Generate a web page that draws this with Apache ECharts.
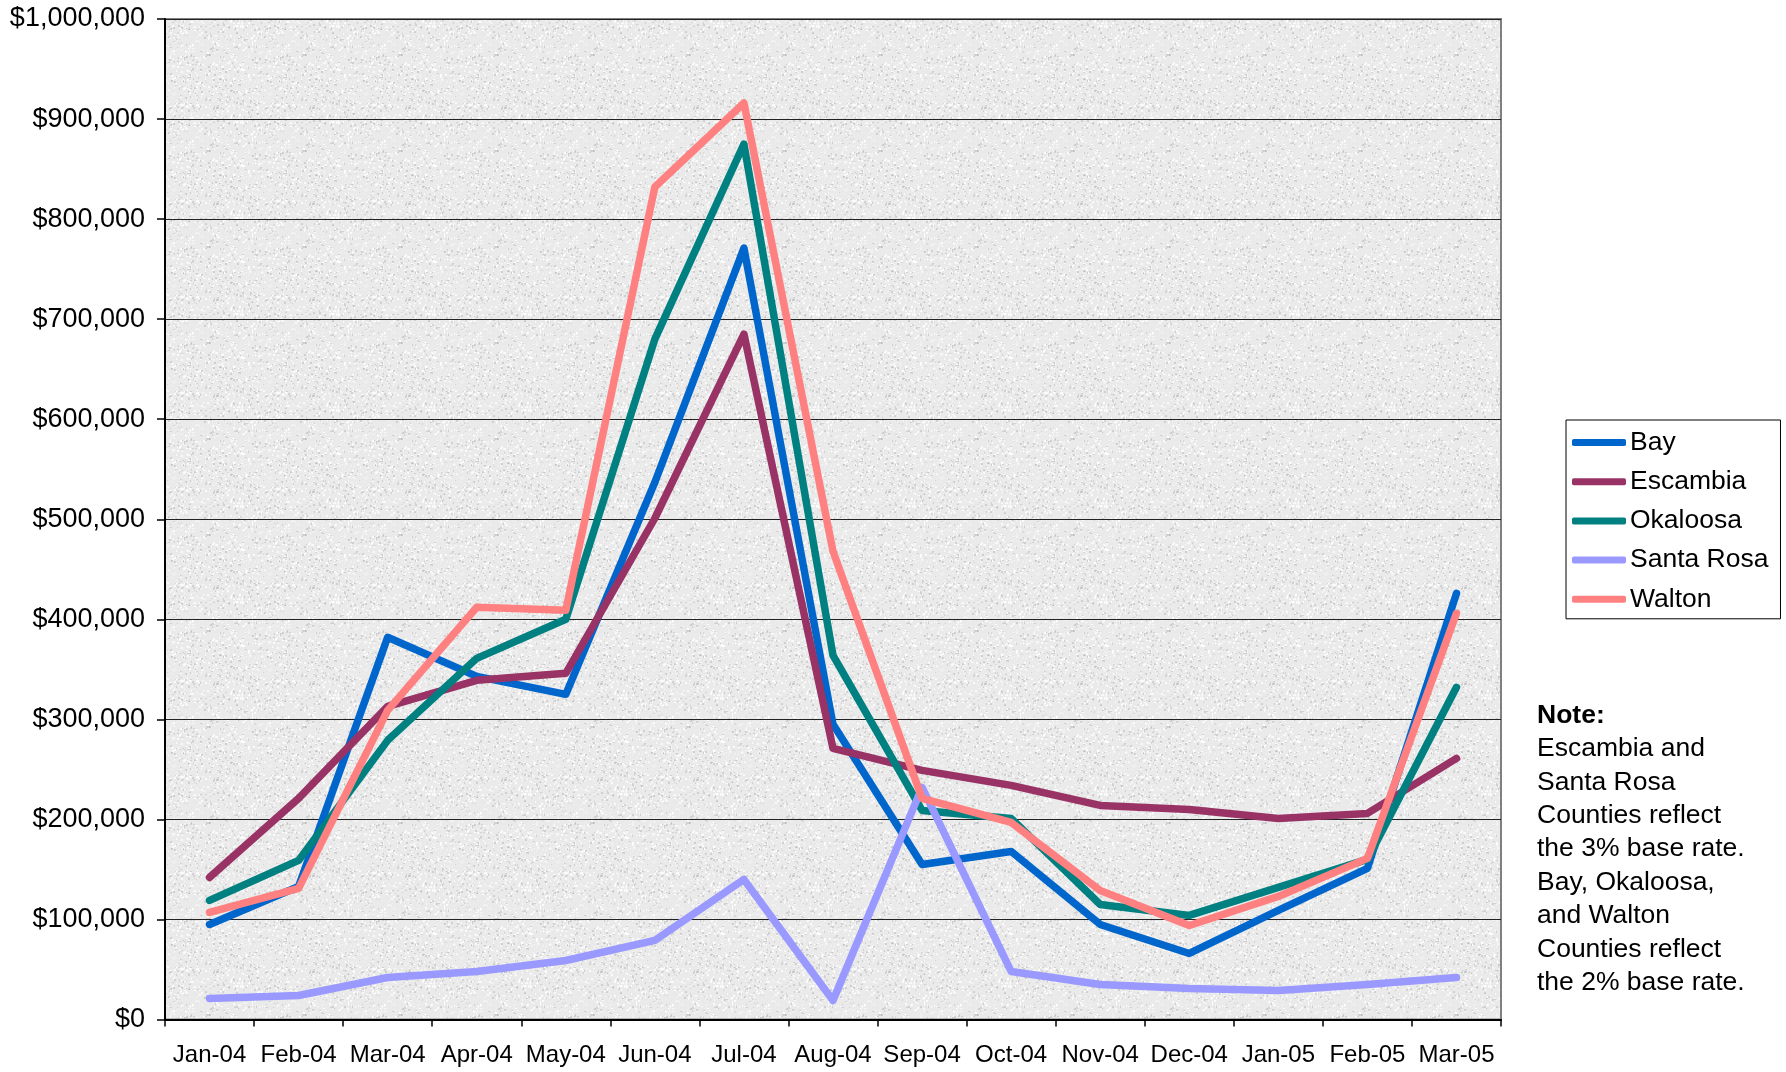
<!DOCTYPE html>
<html>
<head>
<meta charset="utf-8">
<script src="https://cdn.jsdelivr.net/npm/echarts@6/dist/echarts.min.js"></script>
<style>
html,body{margin:0;padding:0;background:#fff;}
#chart{width:1786px;height:1072px;}
</style>
</head>
<body>
<div id="chart"></div>
<script>
var months = ['Jan-04','Feb-04','Mar-04','Apr-04','May-04','Jun-04','Jul-04','Aug-04','Sep-04','Oct-04','Nov-04','Dec-04','Jan-05','Feb-05','Mar-05'];
var seriesNames = ['Bay','Escambia','Okaloosa','Santa Rosa','Walton'];
var bay       = [95000,133000,382000,343000,325000,537000,771000,295000,155000,168000,95000,66000,109000,151000,426000];
var escambia  = [142000,221000,313000,339000,346000,501000,685000,271000,249000,234000,214000,210000,201000,206000,261000];
var okaloosa  = [119000,159000,279000,361000,400000,680000,875000,364000,209000,201000,115000,104000,132000,160000,332000];
var santaRosa = [21000,24000,42000,48000,59000,79000,140000,19000,232000,48000,35000,31000,29000,35000,42000];
var walton    = [107000,131000,309000,412000,409000,832000,916000,468000,221000,197000,129000,94000,123000,161000,406000];
var yTicks = [0,100000,200000,300000,400000,500000,600000,700000,800000,900000,1000000];
var noteLines = ['Escambia and','Santa Rosa','Counties reflect','the 3% base rate.','Bay, Okaloosa,','and Walton','Counties reflect','the 2% base rate.'];

var colors = ['#0066CC','#993366','#008080','#9999FF','#FF8080'];
var values = [bay, escambia, okaloosa, santaRosa, walton];
var font = "'Liberation Sans', Arial, sans-serif";

// deterministic speckle texture for the plot background (style only)
function makeTexture(){
  var c = document.createElement('canvas');
  c.width = 96; c.height = 96;
  var g = c.getContext('2d');
  g.fillStyle = '#eaeaea';
  g.fillRect(0,0,96,96);
  var s = 12345;
  function h(){ s = (s * 1103515245 + 12345) & 0x7fffffff; return s / 0x7fffffff; }
  for (var k = 0; k < 900; k++){
    var x = h()*96, y = h()*96, t = h();
    g.fillStyle = t < 0.62 ? 'rgba(255,255,255,0.75)' : 'rgba(170,170,170,0.4)';
    g.fillRect(Math.floor(x), Math.floor(y), 1 + Math.floor(h()*2), 1 + Math.floor(h()*2));
  }
  return c;
}

var chart = echarts.init(document.getElementById('chart'));
var series = seriesNames.map(function(n, i){
  return {
    name: n, type: 'line', data: values[i], symbol: 'none',
    lineStyle: {width: 7.5, color: colors[i], cap: 'round', join: 'round'},
    itemStyle: {color: colors[i]},
    emphasis: {disabled: true}
  };
});

var noteText = '{b|Note:}\n' + noteLines.map(function(l){return '{n|' + l + '}';}).join('\n');

chart.setOption({
  animation: false,
  color: colors,
  textStyle: {fontFamily: font},
  grid: {left: 165, right: 285, top: 19, bottom: 52.5, show: true,
         backgroundColor: {image: makeTexture(), repeat: 'repeat'},
         borderColor: '#808080', borderWidth: 2},
  legend: {
    orient: 'vertical', left: 1566, top: 420,
    data: seriesNames,
    icon: 'roundRect', itemWidth: 54, itemHeight: 7, itemGap: 12.2,
    padding: [9, 12, 6, 6],
    borderColor: '#000', borderWidth: 1, backgroundColor: '#fff', borderRadius: 0,
    textStyle: {fontSize: 26.5, fontFamily: font, color: '#000', lineHeight: 26, padding: [0,0,0,-1]},
    selectedMode: false
  },
  xAxis: {
    type: 'category', data: months, boundaryGap: true,
    axisLine: {lineStyle: {color: '#000', width: 2}},
    axisTick: {show: true, interval: 0, length: 7, lineStyle: {color: '#000', width: 1.5}},
    axisLabel: {interval: 0, fontSize: 24, color: '#000', margin: 24, fontFamily: font},
    splitLine: {show: false}
  },
  yAxis: {
    type: 'value', min: 0, max: 1000000, interval: 100000,
    axisLine: {show: true, lineStyle: {color: '#000', width: 2}},
    axisTick: {show: true, length: 8, lineStyle: {color: '#000', width: 1.5}},
    axisLabel: {fontSize: 27, color: '#000', margin: 20, fontFamily: font,
      formatter: function(v){ return '$' + v.toLocaleString('en-US'); }},
    splitLine: {show: true, lineStyle: {color: '#222', width: 1}}
  },
  graphic: [{
    type: 'text', left: 1537, top: 702,
    style: {
      text: noteText, fill: '#000', fontFamily: font,
      rich: {
        b: {fontSize: 26.5, fontWeight: 'bold', lineHeight: 33.4, fontFamily: font, fill: '#000'},
        n: {fontSize: 26.5, lineHeight: 33.4, fontFamily: font, fill: '#000'}
      }
    }
  }],
  series: series
});
</script>
</body>
</html>
